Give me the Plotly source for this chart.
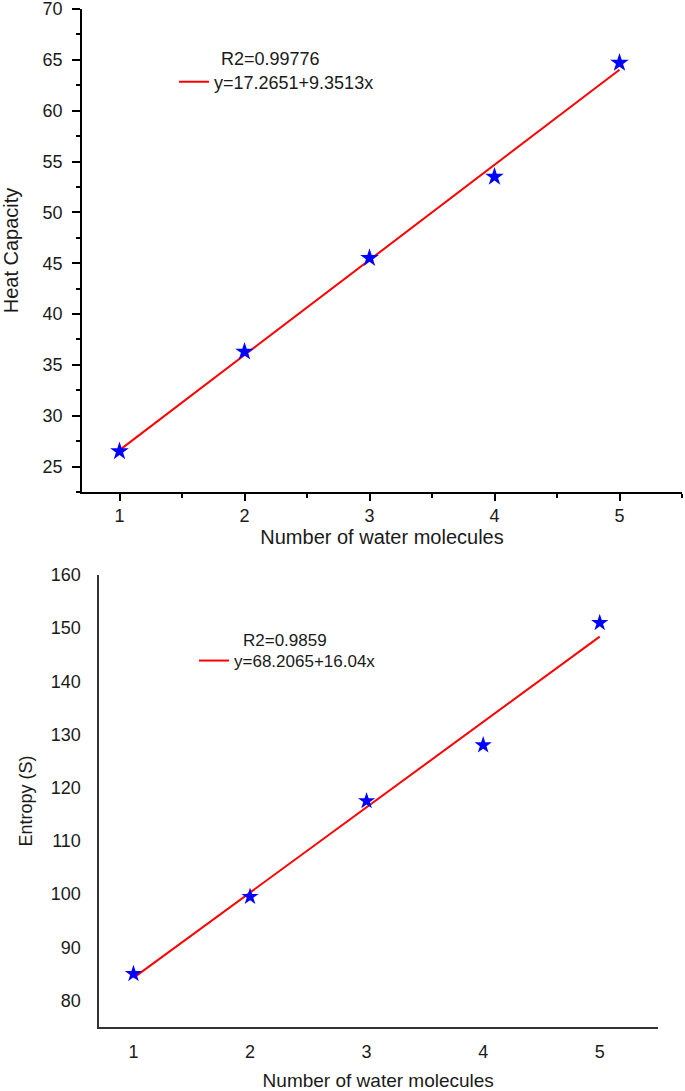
import plotly.graph_objects as go

# ---- data ----
n_water = [1, 2, 3, 4, 5]
heat_capacity = [26.5, 36.3, 45.5, 53.5, 64.7]
entropy = [85.0, 99.5, 117.5, 128.0, 151.0]

hc_fit = {"intercept": 17.2651, "slope": 9.3513, "r2": "0.99776"}
s_fit = {"intercept": 68.2065, "slope": 16.04, "r2": "0.9859"}

hc_ticks = [25, 30, 35, 40, 45, 50, 55, 60, 65, 70]
s_ticks = [80, 90, 100, 110, 120, 130, 140, 150, 160]
x_ticks = [1, 2, 3, 4, 5]

W, H = 685, 1091
FONT = "Liberation Sans, Arial, sans-serif"
TXT = "#1a1a1a"

def fit_line(fit):
    xs = [min(n_water), max(n_water)]
    ys = [fit["intercept"] + fit["slope"] * x for x in xs]
    return xs, ys

fig = go.Figure()

# top chart
fx, fy = fit_line(hc_fit)
fig.add_trace(go.Scatter(x=fx, y=fy, mode="lines", line=dict(color="#ff0000", width=2),
                         name=f"y={hc_fit['intercept']}+{hc_fit['slope']}x",
                         xaxis="x", yaxis="y", legend="legend"))
fig.add_trace(go.Scatter(x=n_water, y=heat_capacity, mode="markers",
                         marker=dict(symbol="star", size=14, color="#0000ff"),
                         showlegend=False, xaxis="x", yaxis="y"))

# bottom chart
fx2, fy2 = fit_line(s_fit)
fig.add_trace(go.Scatter(x=fx2, y=fy2, mode="lines", line=dict(color="#ff0000", width=2),
                         name=f"y={s_fit['intercept']}+{s_fit['slope']}x",
                         xaxis="x2", yaxis="y2", legend="legend2"))
fig.add_trace(go.Scatter(x=n_water, y=entropy, mode="markers",
                         marker=dict(symbol="star", size=13, color="#0000ff"),
                         showlegend=False, xaxis="x2", yaxis="y2"))

def px(v):
    return v / W

def py(v):
    return 1 - v / H

axis_common = dict(showgrid=False, zeroline=False, showline=True, automargin=False,
                   ticklabeloverflow="allow",
                   tickfont=dict(family=FONT, size=18, color=TXT))

fig.update_layout(
    width=W, height=H,
    margin=dict(l=0, r=0, t=0, b=0),
    paper_bgcolor="white", plot_bgcolor="white",
    font=dict(family=FONT, color=TXT),
    xaxis=dict(domain=[px(82), px(682)], anchor="y", range=[0.7, 5.5],
               tickvals=x_ticks, ticks="outside", ticklen=7, tickwidth=1.5,
               linecolor="black", linewidth=1.5, tickcolor="black",
               minor=dict(dtick=0.5, ticks="outside", ticklen=4, tickwidth=1.5, tickcolor="black"),
               ticklabelstandoff=0,
               title=dict(text="Number of water molecules", font=dict(family=FONT, size=20, color=TXT), standoff=0),
               **axis_common),
    yaxis=dict(domain=[py(492), py(9)], anchor="x", range=[22.5, 70],
               tickvals=hc_ticks, ticks="outside", ticklen=8, tickwidth=1.5,
               linecolor="black", linewidth=1.5, tickcolor="black",
               minor=dict(dtick=2.5, ticks="outside", ticklen=4, tickwidth=1.5, tickcolor="black"),
               ticklabelstandoff=6,
               title=dict(text="Heat Capacity", font=dict(family=FONT, size=20, color=TXT), standoff=20),
               **axis_common),
    xaxis2=dict(domain=[px(98.5), px(658)], anchor="y2", range=[0.7, 5.5],
                tickvals=x_ticks, ticks="", linecolor="#333", linewidth=2,
                ticklabelstandoff=7,
                title=dict(text="Number of water molecules", font=dict(family=FONT, size=19, color=TXT), standoff=21),
                **axis_common),
    yaxis2=dict(domain=[py(1027), py(575)], anchor="x2", range=[75, 160],
                tickvals=s_ticks, ticks="", linecolor="#333", linewidth=2,
                ticklabelstandoff=12,
                title=dict(text="Entropy (S)", font=dict(family=FONT, size=18, color=TXT), standoff=14),
                **axis_common),
    legend=dict(x=px(174), y=py(82), xanchor="left", yanchor="middle",
                bgcolor="rgba(0,0,0,0)", font=dict(family=FONT, size=18, color=TXT)),
    legend2=dict(x=px(194), y=py(661), xanchor="left", yanchor="middle",
                 bgcolor="rgba(0,0,0,0)", font=dict(family=FONT, size=17, color=TXT)),
    annotations=[
        dict(text=f"R2={hc_fit['r2']}", x=px(219), y=py(59), xref="paper", yref="paper",
             xanchor="left", yanchor="middle", showarrow=False,
             font=dict(family=FONT, size=18, color=TXT)),
        dict(text=f"R2={s_fit['r2']}", x=px(241), y=py(640), xref="paper", yref="paper",
             xanchor="left", yanchor="middle", showarrow=False,
             font=dict(family=FONT, size=17, color=TXT)),
    ],
)

fig.write_html("out.html",
               config={"displayModeBar": False},
               post_script="document.body.style.margin='0';document.body.style.overflow='hidden';")
